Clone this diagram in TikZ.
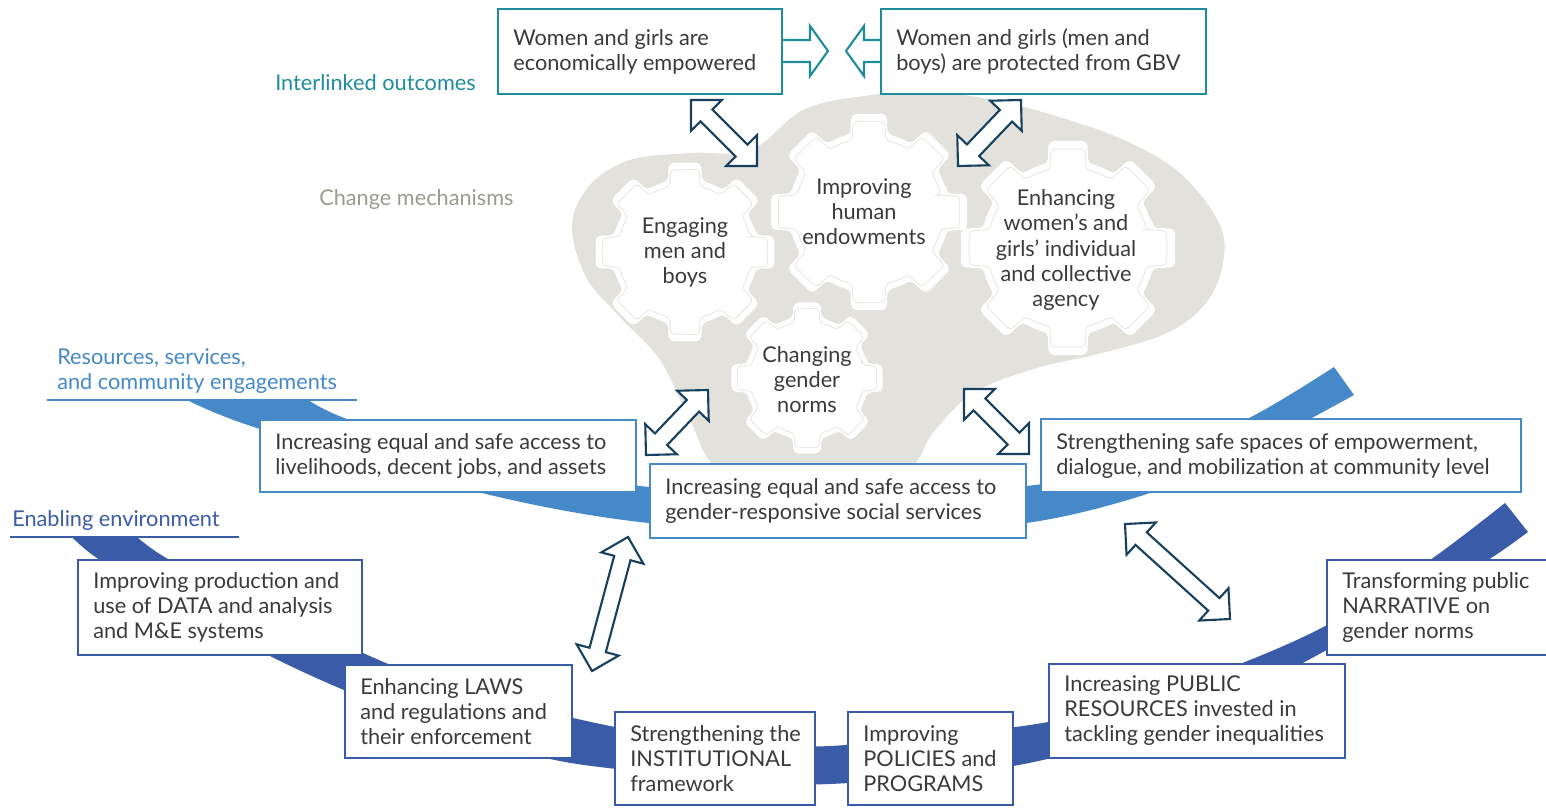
\documentclass[tikz,border=0pt]{standalone}
\usepackage{fontspec}
\setmainfont{Lato}
\usetikzlibrary{calc}
\definecolor{cTeal}{HTML}{1E8C9A}
\definecolor{cNavy}{HTML}{16405E}
\definecolor{cLblue}{HTML}{4589C8}
\definecolor{cDblue}{HTML}{3A5BA8}
\definecolor{cBlob}{HTML}{E2E1DC}
\definecolor{cText}{HTML}{3A3A3A}
\definecolor{cMech}{HTML}{9A9A90}
\definecolor{cGearline}{HTML}{EAE9E5}
\newcommand\bx[7]{%
  \pgfmathsetmacro\bxw{(#4-#2)*0.7113}%
  \pgfmathsetmacro\bxh{(#5-#3)*0.7113}%
  \node[#6, anchor=north west, minimum width=\bxw pt, minimum height=\bxh pt] (#1) at (#2,#3) {};
  \node[txt, align=left, anchor=west, inner sep=0pt] (#1t) at ([xshift=10.7pt]#1.west) {#7};}
\newcommand\gearpath[2]{%
    \pgfmathsetmacro\gR{#2}\pgfmathsetmacro\gr{0.8*#2}
    \path[#1] (-13:\gr) \foreach \t in {0,45,...,315}{ -- ({\t-10}:\gR) -- ({\t+10}:\gR) -- ({\t+13}:\gr) arc[start angle={\t+13}, end angle={\t+32}, radius=\gr] } -- cycle;}
\newcommand\gearshape[3]{%
  \begin{scope}[shift={(#2)}]
    \gearpath{gearsty}{#3}
    \begin{scope}[scale=0.93]
      \gearpath{gearin}{#3}
    \end{scope}
  \end{scope}
  \node[geartxt] (#1) at (#2) {};}
\newcommand\darrow[2]{%
  \coordinate (qq) at ($(#1)!15.5pt!(#2)$);
  \coordinate (rr) at ($(#2)!15.5pt!(#1)$);
  \draw[navyarrow] (#1) -- ($(qq)!15.5pt!90:(#2)$) -- ($(qq)!6pt!90:(#2)$) -- ($(rr)!6pt!-90:(#1)$) -- ($(rr)!15.5pt!-90:(#1)$) -- (#2) -- ($(rr)!15.5pt!90:(#1)$) -- ($(rr)!6pt!90:(#1)$) -- ($(qq)!6pt!-90:(#2)$) -- ($(qq)!15.5pt!-90:(#2)$) -- cycle;}
\newcommand\sarrow[2]{%
  \coordinate (qq) at ($(#2)!12.8pt!(#1)$);
  \draw[tealarrow] ($(#1)!7.8pt!90:(#2)$) -- ($(qq)!7.8pt!-90:(#1)$) -- ($(qq)!17.8pt!-90:(#1)$) -- (#2) -- ($(qq)!17.8pt!90:(#1)$) -- ($(qq)!7.8pt!90:(#1)$) -- ($(#1)!7.8pt!-90:(#2)$) -- cycle;}
\begin{document}
\begin{tikzpicture}[x=0.25mm,y=-0.25mm,
  txt/.style={font=\fontsize{15.45}{17.8}\selectfont, text=cText},
  box/.style={draw, fill=white, line width=1.8pt, inner sep=0pt, outer sep=0pt},
  tbox/.style={box, draw=cTeal},
  lbox/.style={box, draw=cLblue},
  dbox/.style={box, draw=cDblue},
  gearsty/.style={fill=white, draw=white, line width=1pt, rounded corners=3.5pt},
  gearin/.style={draw=cGearline, line width=0.7pt, rounded corners=3pt},
  geartxt/.style={txt, align=center, inner sep=0pt},
  navyarrow/.style={draw=cNavy, fill=white, line width=1.5pt, line join=miter},
  tealarrow/.style={draw=cTeal, fill=white, line width=1.5pt, line join=miter},
  lbl/.style={font=\fontsize{15.45}{17.8}\selectfont, inner sep=0pt, align=left}]
\useasboundingbox (0,0) rectangle (1546,807);
% blob
\fill[cBlob] plot[smooth cycle, tension=0.6] coordinates {
 (572,225) (590,185) (630,160) (690,153) (751,150) (803,110) (864,96) (929,92) (994,100) (1059,117) (1124,140) (1180,173) (1219,223) (1223,263) (1206,303) (1167,333) (1102,353) (1037,368) (975,392) (935,430) (900,475) (800,485) (720,470) (690,420) (660,360) (620,317) (586,277)};
% light band
\fill[cLblue] plot[smooth, tension=0.5] coordinates {(187,400) (257,428) (482,493) (640,522) (840,534) (1026,523) (1153,492) (1260,445) (1354,395)}
  -- plot[smooth, tension=0.5] coordinates {(1334,367) (1249,418) (1140,462) (1035,485) (840,498) (640,486) (482,458) (350,420) (308,400)} -- cycle;
% dark band
\fill[cDblue] plot[smooth, tension=0.5] coordinates {(72,537) (100,560) (190,612) (268,655) (344,690) (460,735) (571,763) (715,778) (830,784) (1013,766) (1150,730) (1250,690) (1345,640) (1430,592) (1488,560) (1528,532)}
  -- plot[smooth, tension=0.5] coordinates {(1505,503) (1430,560) (1327,625) (1240,664) (1140,700) (1030,725) (830,746) (715,740) (615,727) (460,690) (363,653) (260,600) (170,560) (137,537)} -- cycle;
% gears
\gearshape{g1}{685,252}{90}
\gearshape{g2}{869,212}{99}
\gearshape{g3}{1068,248}{108}
\gearshape{g4}{807,378}{76}
\node[geartxt] (t1) at (g1) {Engaging\\men and\\boys};
\node[geartxt] (t2) at (864,212) {Improving\\human\\endowments};
\node[geartxt] (t3) at (1066,250) {Enhancing\\women’s and\\girls’ individual\\and collective\\agency};
\node[geartxt] (t4) at (807,380) {Changing\\gender\\norms};
% labels
\node[lbl, text=cTeal, anchor=west] (lo) at (275,83) {Interlinked outcomes};
\node[lbl, text=cMech, anchor=west] (lm) at (319,199) {Change mechanisms};
\node[lbl, text=cLblue, anchor=south west] (lr) at (57,394) {Resources, services,\\and community engagements};
\node[lbl, text=cDblue, anchor=south west] (le) at (12,531) {Enabling environment};
\coordinate (lr1) at (47,400); \coordinate (lr2) at (357,400);
\coordinate (le1) at (10,537); \coordinate (le2) at (239,537);
\draw[cLblue, line width=1.8pt] (lr1) -- (lr2);
\draw[cDblue, line width=1.8pt] (le1) -- (le2);
% navy double arrows
\coordinate (a1s) at (691,100); \coordinate (a1e) at (757,166);
\coordinate (a2s) at (1021,100); \coordinate (a2e) at (958,166);
\coordinate (a3s) at (708,390); \coordinate (a3e) at (646,455);
\coordinate (a4s) at (964,389); \coordinate (a4e) at (1029,454);
\coordinate (a5s) at (628,537); \coordinate (a5e) at (592,671);
\coordinate (a6s) at (1125,524); \coordinate (a6e) at (1230,619);
\darrow{a1s}{a1e}
\darrow{a2s}{a2e}
\darrow{a3s}{a3e}
\darrow{a4s}{a4e}
\darrow{a5s}{a5e}
\darrow{a6s}{a6e}
% teal arrows
\coordinate (t1s) at (770,51); \coordinate (t1e) at (828,51);
\coordinate (t2s) at (893,51); \coordinate (t2e) at (846,51);
\sarrow{t1s}{t1e}
\sarrow{t2s}{t2e}
% boxes
\bx{bA}{498}{9}{782}{94}{tbox}{Women and girls are\\economically empowered}
\bx{bB}{881}{9}{1206}{94}{tbox}{Women and girls (men and\\boys) are protected from GBV}
\bx{r1}{260}{420}{636}{492}{lbox}{Increasing equal and safe access to\\livelihoods, decent jobs, and assets}
\bx{r2}{650}{464}{1026}{538}{lbox}{Increasing equal and safe access to\\gender-responsive social services}
\bx{r3}{1041}{419}{1521}{492}{lbox}{Strengthening safe spaces of empowerment,\\dialogue, and mobilization at community level}
\bx{e1}{78}{560}{362}{655}{dbox}{Improving production and\\use of DATA and analysis\\and M\&E systems}
\bx{e2}{345}{665}{572}{758}{dbox}{Enhancing LAWS\\and regulations and\\their enforcement}
\bx{e3}{615}{712}{815}{805}{dbox}{Strengthening the\\INSTITUTIONAL\\framework}
\bx{e4}{848}{712}{1013}{805}{dbox}{Improving\\POLICIES and\\PROGRAMS}
\bx{e5}{1049}{664}{1345}{758}{dbox}{Increasing PUBLIC\\RESOURCES invested in\\tackling gender inequalities}
\bx{e6}{1327}{560}{1556}{655}{dbox}{Transforming public\\NARRATIVE on\\gender norms}
\end{tikzpicture}
\end{document}
